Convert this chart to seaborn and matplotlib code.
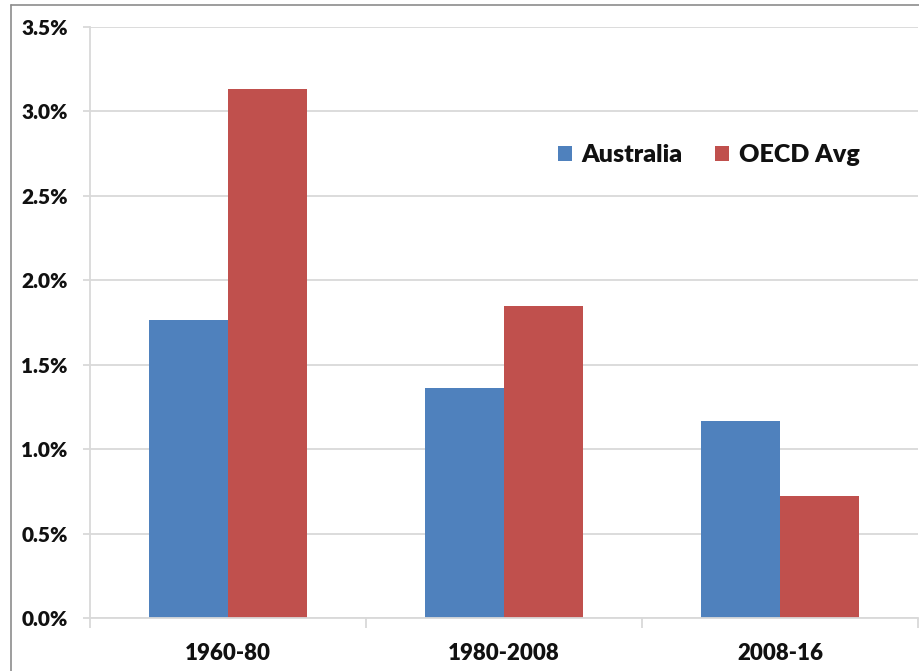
import matplotlib
matplotlib.use("Agg")
import matplotlib.pyplot as plt
from matplotlib.lines import Line2D
from matplotlib.ticker import FuncFormatter, FixedLocator
import pandas as pd
import seaborn as sns

# Average annual growth by period
periods = ["1960-80", "1980-2008", "2008-16"]
australia = [1.765, 1.365, 1.165]
oecd_avg = [3.13, 1.848, 0.72]
series_names = ["Australia", "OECD Avg"]
series_colors = ["#4F81BD", "#C0504D"]

df = pd.DataFrame({
    "Period": periods * 2,
    "Growth": australia + oecd_avg,
    "Series": [series_names[0]] * len(periods) + [series_names[1]] * len(periods),
})

sns.set_theme(style="white")
plt.rcParams["font.family"] = ["Lato", "DejaVu Sans"]
WEIGHT = "heavy"

W, H = 919, 671
fig = plt.figure(figsize=(W / 100, H / 100), dpi=100)
ax = fig.add_axes([90 / W, 1 - 618 / H, (918 - 90) / W, (618 - 27) / H])

sns.barplot(
    data=df, x="Period", y="Growth", hue="Series", order=periods,
    hue_order=series_names, palette=series_colors, width=0.57, gap=0,
    saturation=1, edgecolor="none", linewidth=0, ax=ax, errorbar=None,
)

grid_col = "#D9D9D9"
ax.set_xlim(-0.5, 2.5)
ax.set_ylim(0, 3.5)
ax.set_yticks([i * 0.5 for i in range(8)])
ax.yaxis.set_major_formatter(FuncFormatter(lambda v, _: f"{v:.1f}%"))
ax.grid(axis="y", color=grid_col, linewidth=1.3)
ax.set_axisbelow(True)
ax.tick_params(axis="y", which="major", length=5, color=grid_col, width=1.3,
               labelsize=15, pad=11, left=True)

ax.xaxis.set_minor_locator(FixedLocator([-0.5, 0.5, 1.5, 2.5]))
ax.tick_params(axis="x", which="major", length=0, labelsize=16, pad=18)
ax.tick_params(axis="x", which="minor", length=7, color=grid_col, width=1.3,
               bottom=True)
for lbl in ax.get_xticklabels() + ax.get_yticklabels():
    lbl.set_fontweight(WEIGHT)
    lbl.set_color("#111111")

for side in ["top", "right"]:
    ax.spines[side].set_visible(False)
for side in ["left", "bottom"]:
    ax.spines[side].set_color(grid_col)
    ax.spines[side].set_linewidth(1.3)

ax.set_xlabel("")
ax.set_ylabel("")

leg = ax.legend(
    loc="center", bbox_to_anchor=((709 - 90) / (918 - 90), (618 - 155) / (618 - 27)),
    ncol=2, frameon=False, handlelength=0.55, handleheight=0.55,
    handletextpad=0.4, columnspacing=1.3, prop={"weight": WEIGHT, "size": 18},
)
for t in leg.get_texts():
    t.set_color("#111111")

# Outer frame on left and top edges
fig.add_artist(Line2D([11 / W, 11 / W], [0, 1 - 5 / H], transform=fig.transFigure,
                      color="#8C8C8C", linewidth=1.2))
fig.add_artist(Line2D([11 / W, 1], [1 - 5 / H, 1 - 5 / H], transform=fig.transFigure,
                      color="#8C8C8C", linewidth=1.2))

fig.savefig("out.png", dpi=100)
